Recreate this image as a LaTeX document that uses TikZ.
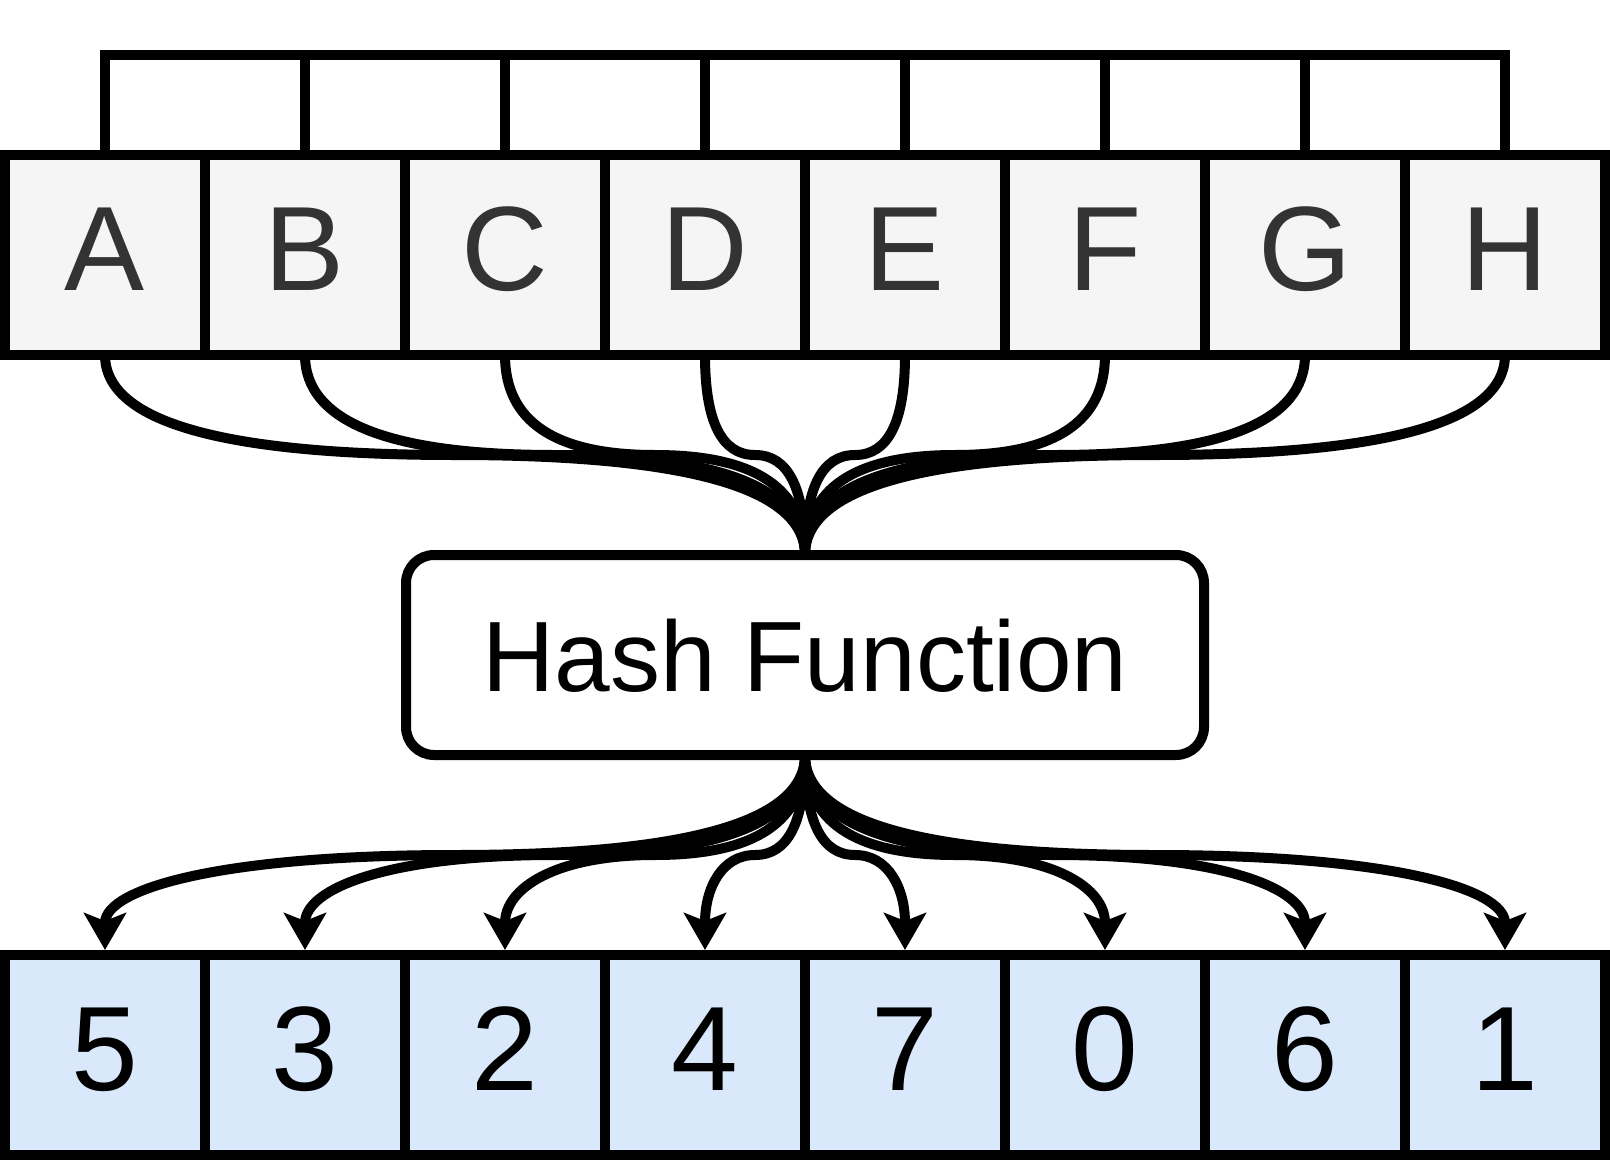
\documentclass[tikz,border=0pt]{standalone}
\usepackage{fontspec}
\setmainfont{Liberation Sans}
\usetikzlibrary{arrows.meta,calc,positioning}
\definecolor{keyfill}{HTML}{F5F5F5}
\definecolor{keytext}{HTML}{333333}
\definecolor{slotfill}{HTML}{DAE8FC}
\tikzset{wire/.style={line width=10pt},
  drop/.style={-{Stealth[length=37pt, width=42pt, inset=8pt]}, shorten >=5pt},
  cellbox/.style={draw, line width=10pt, outer sep=0pt, inner sep=0pt, minimum width=200pt, minimum height=200pt,
    text height=86pt, text depth=16pt, font=\fontsize{120}{144}\selectfont},
  keycell/.style={cellbox, fill=keyfill, text=keytext},
  slotcell/.style={cellbox, fill=slotfill},
  hashbox/.style={draw, line width=10pt, rounded corners=28pt, outer sep=0pt, minimum width=798pt, minimum height=200pt,
    text height=72pt, text depth=0pt, font=\fontsize{100}{120}\selectfont}}
% bent connector: down, across at half height, down again
\newcommand{\hashwire}[3][]{%
  \coordinate (w0) at (#2); \coordinate (w3) at (#3);
  \coordinate (wm) at ($(w0)!0.5!(w3)$);
  \draw[wire,#1] (w0) .. controls ($(w0)!2/3!(w0|-wm)$) and ($(wm)!2/3!(w0|-wm)$) .. (wm)
    .. controls ($(wm)!2/3!(w3|-wm)$) and ($(w3)!2/3!(w3|-wm)$) .. (w3);}

\begin{document}
\begin{tikzpicture}[x=1pt, y=1pt, node distance=0pt]
  \useasboundingbox (-105,-905) rectangle (1505,255);
  % keys
  \node[keycell] (a) at (0,0) {A};
  \node[keycell, right=of a] (b) {B};
  \node[keycell, right=of b] (c) {C};
  \node[keycell, right=of c] (d) {D};
  \node[keycell, right=of d] (e) {E};
  \node[keycell, right=of e] (f) {F};
  \node[keycell, right=of f] (g) {G};
  \node[keycell, right=of g] (h) {H};
  \draw[wire] (a.north) -- ++(0,100) -| (b.north);
  \draw[wire] (b.north) -- ++(0,100) -| (c.north);
  \draw[wire] (c.north) -- ++(0,100) -| (d.north);
  \draw[wire] (d.north) -- ++(0,100) -| (e.north);
  \draw[wire] (e.north) -- ++(0,100) -| (f.north);
  \draw[wire] (f.north) -- ++(0,100) -| (g.north);
  \draw[wire] (g.north) -- ++(0,100) -| (h.north);
  % hash
  \node[hashbox] (hash) at ($(d)!0.5!(e)+(0,-400)$) {Hash Function};
  % slots
  \node[slotcell] (v5) at ($(a)+(0,-800)$) {5};
  \node[slotcell, right=of v5] (v3) {3};
  \node[slotcell, right=of v3] (v2) {2};
  \node[slotcell, right=of v2] (v4) {4};
  \node[slotcell, right=of v4] (v7) {7};
  \node[slotcell, right=of v7] (v0) {0};
  \node[slotcell, right=of v0] (v6) {6};
  \node[slotcell, right=of v6] (v1) {1};
  \hashwire{a.south}{hash.north}
  \hashwire{b.south}{hash.north}
  \hashwire{c.south}{hash.north}
  \hashwire{d.south}{hash.north}
  \hashwire{e.south}{hash.north}
  \hashwire{f.south}{hash.north}
  \hashwire{g.south}{hash.north}
  \hashwire{h.south}{hash.north}
  \hashwire[drop]{hash.south}{v5.north}
  \hashwire[drop]{hash.south}{v3.north}
  \hashwire[drop]{hash.south}{v2.north}
  \hashwire[drop]{hash.south}{v4.north}
  \hashwire[drop]{hash.south}{v7.north}
  \hashwire[drop]{hash.south}{v0.north}
  \hashwire[drop]{hash.south}{v6.north}
  \hashwire[drop]{hash.south}{v1.north}
\end{tikzpicture}
\end{document}
